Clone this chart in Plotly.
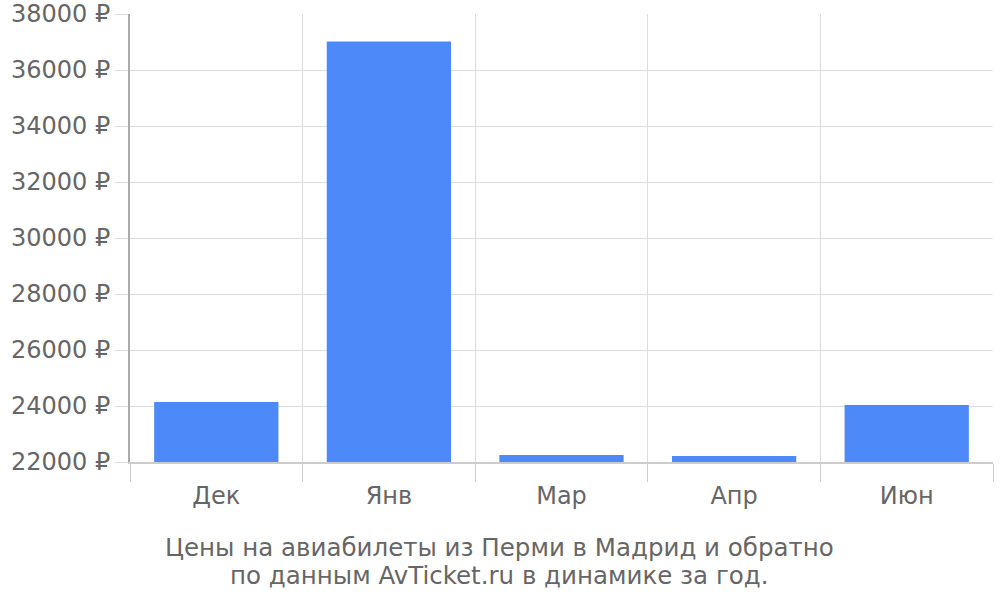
import plotly.graph_objects as go

categories = ["Дек", "Янв", "Мар", "Апр", "Июн"]
prices = [24140, 37020, 22250, 22210, 24040]
y_ticks = list(range(22000, 38001, 2000))
title_lines = ["Цены на авиабилеты из Перми в Мадрид и обратно",
               "по данным AvTicket.ru в динамике за год."]

positions = list(range(len(categories)))
boundaries = [p - 0.5 for p in positions] + [positions[-1] + 0.5]

FONT = "DejaVu Sans"
TXT = "#666666"
GRID = "#dddddd"
FS = 24

fig = go.Figure()
fig.add_trace(go.Bar(
    x=positions, y=prices, base=0,
    marker=dict(color="#4d89f9", line=dict(width=0)),
    width=0.72, hoverinfo="skip",
))
# invisible trace on second x axis to carry category labels
fig.add_trace(go.Scatter(x=positions, y=prices, xaxis="x2", mode="markers",
                         marker=dict(opacity=0), hoverinfo="skip", showlegend=False))

title_annotations = [
    dict(text=line, xref="paper", yref="paper",
         x=0.4287, y=-0.153 - i * 0.0625, xanchor="center", yanchor="top",
         showarrow=False, font=dict(family=FONT, color=TXT, size=24.5))
    for i, line in enumerate(title_lines)
]

fig.update_layout(
    width=1000, height=600,
    margin=dict(l=130, r=7, t=14, b=138, autoexpand=False),
    plot_bgcolor="white", paper_bgcolor="white",
    showlegend=False,
    font=dict(family=FONT, color=TXT, size=FS),
    bargap=0.28,
    xaxis=dict(
        range=[-0.5, len(categories) - 0.5], automargin=False,
        tickmode="array", tickvals=boundaries, showticklabels=False,
        showgrid=True, gridcolor=GRID, gridwidth=1,
        ticks="outside", ticklen=18, tickcolor="#cccccc", tickwidth=1,
        zeroline=False, showline=True, linecolor="#cccccc", linewidth=2,
    ),
    xaxis2=dict(
        overlaying="x", matches="x", automargin=False,
        tickmode="array", tickvals=positions, ticktext=categories,
        showgrid=False, zeroline=False, showline=False, ticks="",
        side="bottom", anchor="y", ticklabelstandoff=17,
        tickfont=dict(family=FONT, color=TXT, size=FS),
    ),
    yaxis=dict(
        range=[y_ticks[0], y_ticks[-1]], automargin=False,
        tickmode="array", tickvals=y_ticks,
        ticktext=[f"{v} ₽" for v in y_ticks],
        showgrid=True, gridcolor=GRID, gridwidth=1,
        ticks="outside", ticklen=13, tickcolor=GRID, ticklabelstandoff=0,
        showline=True, linecolor="#aaaaaa", linewidth=2,
        zeroline=False,
        tickfont=dict(family=FONT, color=TXT, size=FS),
    ),
    annotations=title_annotations,
)

fig.write_html("out.html", config={"displayModeBar": False},
               post_script="document.body.style.margin='0px';")
